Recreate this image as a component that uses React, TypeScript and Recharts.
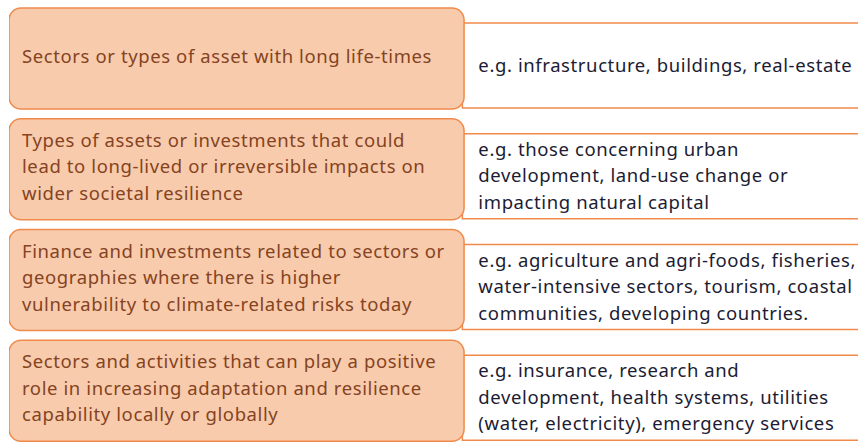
import { BarChart, Bar, XAxis, YAxis } from 'recharts'

// 4 rows of the diagram: left label column, right example column
const rowKeys = ['longLife', 'irreversible', 'vulnerable', 'positive']

const labelLines = [
  ['Sectors or types of asset with long life-times'],
  [
    'Types of assets or investments that could',
    'lead to long-lived or irreversible impacts on',
    'wider societal resilience',
  ],
  [
    'Finance and investments related to sectors or',
    'geographies where there is higher',
    'vulnerability to climate-related risks today',
  ],
  [
    'Sectors and activities that can play a positive',
    'role in increasing adaptation and resilience',
    'capability locally or globally',
  ],
]

const exampleLines = [
  ['e.g. infrastructure, buildings, real-estate'],
  [
    'e.g. those concerning urban',
    'development, land-use change or',
    'impacting natural capital',
  ],
  [
    'e.g. agriculture and agri-foods, fisheries,',
    'water-intensive sectors, tourism, coastal',
    'communities, developing countries.',
  ],
  [
    'e.g. insurance, research and',
    'development, health systems, utilities',
    '(water, electricity), emergency services',
  ],
]

// column spans in % of the width
const labelSpan = [0, 53.6]
const exampleSpan = [53.4, 101]

const data = rowKeys.map((key, i) => ({
  key,
  labelSpan,
  exampleSpan,
  label: labelLines[i],
  example: exampleLines[i],
}))

const FONT = '"Noto Sans", "Open Sans", sans-serif'
const FONT_SIZE = 18.5
const LINE_H = 26.5
const ORANGE = '#F08A4B'
const PEACH = '#F8CBAD'

function textBlock(lines: string[], x: number, cy: number, color: string) {
  const first = cy - ((lines.length - 1) * LINE_H) / 2 + 6
  return lines.map((l, i) => (
    <text key={i} x={x} y={first + i * LINE_H} fill={color}
      fontFamily={FONT} fontSize={FONT_SIZE} letterSpacing={0.6}>{l}</text>
  ))
}

function LabelBox(props: any) {
  const { x, y, width, height, payload } = props
  return (
    <g>
      <rect x={x} y={y} width={width} height={height} rx={12} ry={12}
        fill={PEACH} stroke={ORANGE} strokeWidth={1.5} />
      {textBlock(payload.label, x + 13, y + height / 2 - 2, '#85431F')}
    </g>
  )
}

function ExampleBox(props: any) {
  const { x, y, width, height, payload } = props
  const top = y + 15
  const bottom = y + height - 1
  return (
    <g>
      <rect x={x} y={top} width={width + 20} height={bottom - top}
        fill="#fff" stroke={ORANGE} strokeWidth={1.5} />
      {textBlock(payload.example, x + 16, (top + bottom) / 2, '#1C1C33')}
    </g>
  )
}

export default function App() {
  return (
    <div style={{ width: 858, height: 446 }}>
      <style>{'body{margin:0}'}</style>
      <BarChart width={858} height={446} data={data} layout="vertical"
        margin={{ top: 3, right: 0, bottom: 0, left: 9 }} barCategoryGap={5}>
        <XAxis type="number" domain={[0, 100]} hide allowDataOverflow />
        <YAxis yAxisId="examples" type="category" dataKey="key" hide />
        <YAxis yAxisId="labels" type="category" dataKey="key" hide />
        <Bar yAxisId="examples" dataKey="exampleSpan" shape={ExampleBox} isAnimationActive={false} />
        <Bar yAxisId="labels" dataKey="labelSpan" shape={LabelBox} isAnimationActive={false} />
      </BarChart>
    </div>
  )
}
